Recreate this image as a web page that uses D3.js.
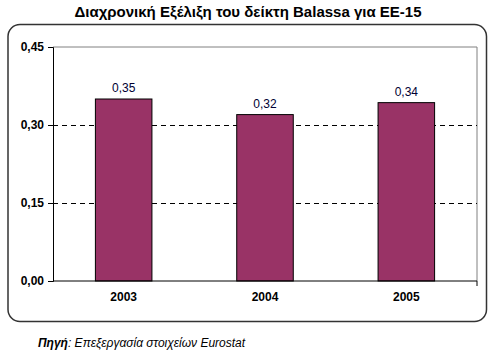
<!DOCTYPE html>
<html><head><meta charset="utf-8">
<script src="https://cdn.jsdelivr.net/npm/d3@7"></script>
<style>body{margin:0;background:#fff;font-family:"Liberation Sans",Arial,sans-serif;}</style>
</head><body><svg id="c" width="494" height="360"></svg>
<script>
const categories = ["2003", "2004", "2005"];
const values = [0.35, 0.32, 0.343];
const valueLabels = ["0,35", "0,32", "0,34"];
const yTicks = [0, 0.15, 0.30, 0.45];
const yTickLabels = ["0,00", "0,15", "0,30", "0,45"];
const title = "Διαχρονική Εξέλιξη του δείκτη Balassa για ΕΕ-15";

const svg = d3.select("#c");
const m = {left: 53, right: 477, top: 47, bottom: 281};
const x = d3.scaleBand().domain(categories).range([m.left, m.right]).paddingInner(0.6).paddingOuter(0.3);
const y = d3.scaleLinear().domain([0, 0.45]).range([m.bottom, m.top]);

svg.append("text").attr("x", 248).attr("y", 16.5).attr("text-anchor", "middle")
  .attr("font-size", 15).attr("font-weight", "bold").text(title);

svg.append("rect").attr("x", 8).attr("y", 24.5).attr("width", 478.5).attr("height", 297)
  .attr("rx", 12).attr("fill", "none").attr("stroke", "#333").attr("stroke-width", 1.5);

// plot border (top/right gray)
svg.append("path").attr("d", `M${m.left},${m.top}H${m.right}V${m.bottom}`)
  .attr("fill", "none").attr("stroke", "#808080").attr("stroke-width", 1);

// gridlines
svg.append("g").selectAll("line").data(yTicks.filter(t => t > 0 && t < 0.45)).join("line")
  .attr("x1", m.left).attr("x2", m.right).attr("y1", d => Math.round(y(d)) + 0.5).attr("y2", d => Math.round(y(d)) + 0.5)
  .attr("stroke", "#000").attr("stroke-dasharray", "5,4");

// bars
svg.append("g").selectAll("rect").data(values).join("rect")
  .attr("x", (d, i) => x(categories[i])).attr("width", x.bandwidth())
  .attr("y", d => y(d)).attr("height", d => y(0) - y(d))
  .attr("fill", "#993366").attr("stroke", "#000").attr("stroke-width", 1);

svg.append("g").selectAll("text").data(values).join("text")
  .attr("x", (d, i) => x(categories[i]) + x.bandwidth() / 2).attr("y", d => y(d) - 7)
  .attr("text-anchor", "middle").attr("font-size", 12).attr("fill", "#000033")
  .text((d, i) => valueLabels[i]);

// y axis
const ya = d3.axisLeft(y).tickValues(yTicks).tickSize(5).tickFormat((d, i) => yTickLabels[i]);
const gy = svg.append("g").attr("transform", `translate(${m.left},0)`).call(ya);
gy.select(".domain").attr("stroke", "#000");
gy.selectAll(".tick text").attr("font-size", 12).attr("font-weight", "bold").attr("fill", "#000")
  .attr("font-family", "Liberation Sans, Arial, sans-serif").attr("x", -9);

// x axis
const xa = d3.axisBottom(x).tickSize(0);
const gx = svg.append("g").attr("transform", `translate(0,${m.bottom})`).call(xa);
gx.select(".domain").attr("d", `M${m.left},0H${m.right}V5`).attr("stroke", "#000");
gx.selectAll(".tick text").attr("font-size", 12).attr("font-weight", "bold").attr("fill", "#000")
  .attr("font-family", "Liberation Sans, Arial, sans-serif").attr("y", 20).attr("dy", 0);

const src = svg.append("text").attr("x", 38).attr("y", 347).attr("font-size", 12).attr("font-style", "italic");
src.append("tspan").attr("font-weight", "bold").text("Πηγή");
src.append("tspan").text(": Επεξεργασία στοιχείων Eurostat");
</script></body></html>
